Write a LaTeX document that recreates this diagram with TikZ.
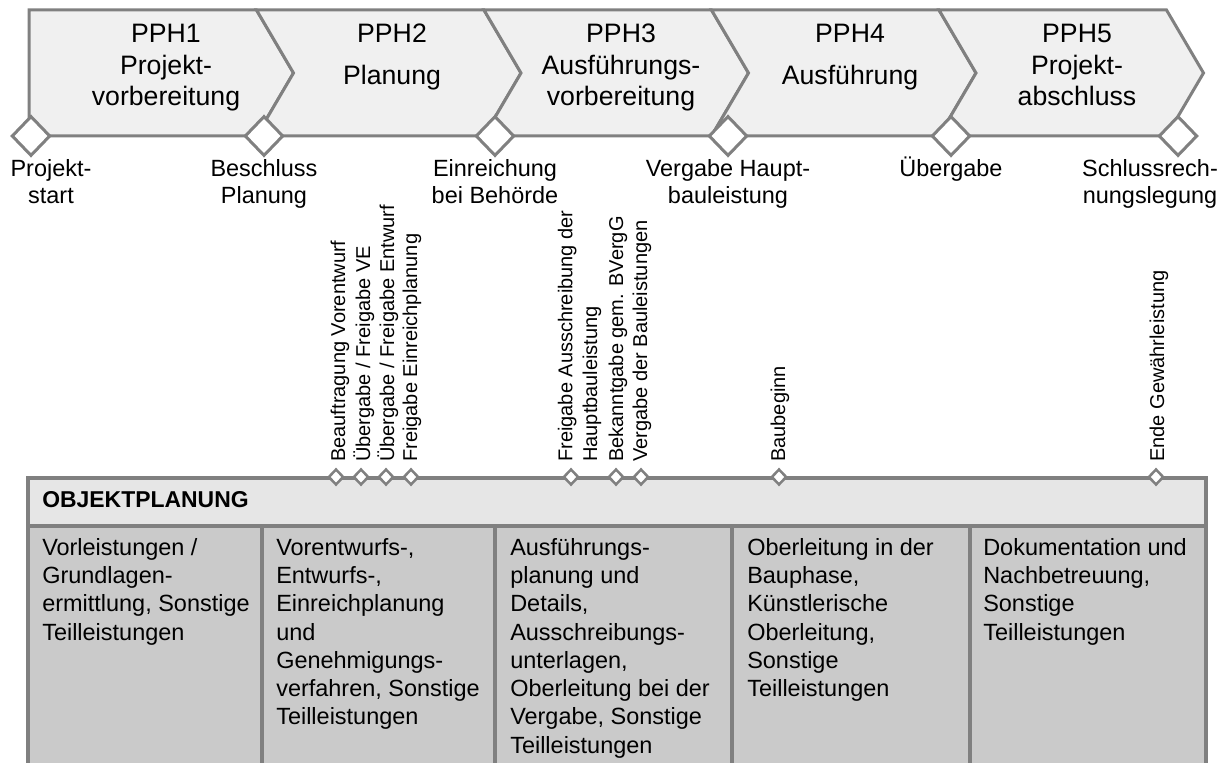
\documentclass[tikz,border=0pt]{standalone}
\usepackage{fontspec}
\setmainfont{Liberation Sans}
\usetikzlibrary{shapes.geometric,positioning}

\definecolor{linegray}{HTML}{808080}
\definecolor{phasefill}{HTML}{F0F0F0}
\definecolor{headfill}{HTML}{E6E6E6}
\definecolor{cellfill}{HTML}{CACACA}

\begin{document}
\begin{tikzpicture}[x=0.75pt, y=-0.75pt,
    phase/.style={draw=linegray, fill=phasefill, line width=2.25pt},
    box/.style={draw=linegray, line width=2.4pt},
    ms/.style={diamond, draw=linegray, fill=white, line width=2.25pt,
      minimum width=29pt, minimum height=30pt, inner sep=0pt},
    sms/.style={diamond, draw=linegray, fill=white, line width=1.9pt,
      minimum width=11.5pt, minimum height=12pt, inner sep=0pt},
    ptext/.style={anchor=north, align=center, inner sep=0pt,
      font=\fontsize{20}{23.6}\selectfont},
    mslabel/.style={align=center, inner sep=0pt,
      font=\fontsize{17.6}{20.3}\selectfont},
    vlabel/.style={rotate=90, anchor=base west, align=left, inner sep=0pt,
      font=\fontsize{15}{18.4}\selectfont},
    celltext/.style={anchor=north west, align=left, inner sep=0pt,
      font=\fontsize{17.6}{21.2}\selectfont}]
  \useasboundingbox (0,0) rectangle (1227,763);

  % phases
  \draw[phase] (29,10) -- (256.5,10) -- (293.5,73) -- (256.5,136) -- (29,136) -- cycle;
  \foreach \x in {256.5,484,711.5,939}
    \draw[phase] (\x,10) -- ++(227.5,0) -- ++(37,63) -- ++(-37,63)
      -- ++(-227.5,0) -- ++(37,-63) -- cycle;

  \node (p1) [ptext] at (166,24)  {PPH1\\Projekt-\\vorbereitung};
  \node (p2) [ptext] at (392,24)  {PPH2\\[7.9pt]Planung};
  \node (p3) [ptext] at (621,24)  {PPH3\\Ausführungs-\\vorbereitung};
  \node (p4) [ptext] at (850,24)  {PPH4\\[7.9pt]Ausführung};
  \node (p5) [ptext] at (1077,24) {PPH5\\Projekt-\\abschluss};

  % milestones
  \node (m1) [ms] at (31,136)   {};
  \node (m2) [ms] at (264,136)  {};
  \node (m3) [ms] at (495,136)  {};
  \node (m4) [ms] at (728,136)  {};
  \node (m5) [ms] at (951,136)  {};
  \node (m6) [ms] at (1178,136) {};

  \node (l1) [mslabel, below=1.3pt of m1, xshift=15pt]  {Projekt-\\start};
  \node (l2) [mslabel, below=1.3pt of m2]               {Beschluss\\Planung};
  \node (l3) [mslabel, below=1.3pt of m3]               {Einreichung\\bei Behörde};
  \node (l4) [mslabel, below=1.3pt of m4]               {Vergabe Haupt-\\bauleistung};
  \node (l5) [mslabel, below=14pt of m5, anchor=base]   {Übergabe};
  \node (l6) [mslabel, below=1.3pt of m6, xshift=-21pt] {Schlussrech-\\nungslegung};

  % leistungsbild
  \draw[box, fill=headfill] (28,478) rectangle (1206,526);
  \draw[box, fill=cellfill] (28,526) rectangle (1206,780);
  \foreach \x in {262,495,732,970}
    \draw[box] (\x,526) -- (\x,780);

  \node (hdr) [anchor=base west, inner sep=0pt, font=\fontsize{17.2}{20}\selectfont\bfseries]
    at (42,507) {OBJEKTPLANUNG};

  \node (c1) [celltext] at (42,538)  {Vorleistungen /\\Grundlagen-\\ermittlung, Sonstige\\Teilleistungen};
  \node (c2) [celltext] at (276,538) {Vorentwurfs-,\\Entwurfs-,\\Einreichplanung\\und\\Genehmigungs-\\verfahren, Sonstige\\Teilleistungen};
  \node (c3) [celltext] at (510,538) {Ausführungs-\\planung und\\Details,\\Ausschreibungs-\\unterlagen,\\Oberleitung bei der\\Vergabe, Sonstige\\Teilleistungen};
  \node (c4) [celltext] at (747,538) {Oberleitung in der\\Bauphase,\\Künstlerische\\Oberleitung,\\Sonstige\\Teilleistungen};
  \node (c5) [celltext] at (983,538) {Dokumentation und\\Nachbetreuung,\\Sonstige\\Teilleistungen};

  % teilmeilensteine
  \foreach \x [count=\i] in {336,361,386,411,571,616,641,779,1156}
    \node (s\i) [sms] at (\x,477) {};

  \node (v1) [vlabel] at (345,462)  {Beauftragung Vorentwurf};
  \node (v2) [vlabel] at (370,462)  {Übergabe / Freigabe VE};
  \node (v3) [vlabel] at (394,462)  {Übergabe / Freigabe Entwurf};
  \node (v4) [vlabel] at (417,462)  {Freigabe Einreichplanung};
  \node (v5) [vlabel] at (597,462)  {Freigabe Ausschreibung der\\Hauptbauleistung};
  \node (v6) [vlabel] at (623,462)  {Bekanntgabe gem. BVergG};
  \node (v7) [vlabel] at (647,462)  {Vergabe der Bauleistungen};
  \node (v8) [vlabel] at (785,462)  {Baubeginn};
  \node (v9) [vlabel] at (1164,462) {Ende Gewährleistung};
\end{tikzpicture}
\end{document}
